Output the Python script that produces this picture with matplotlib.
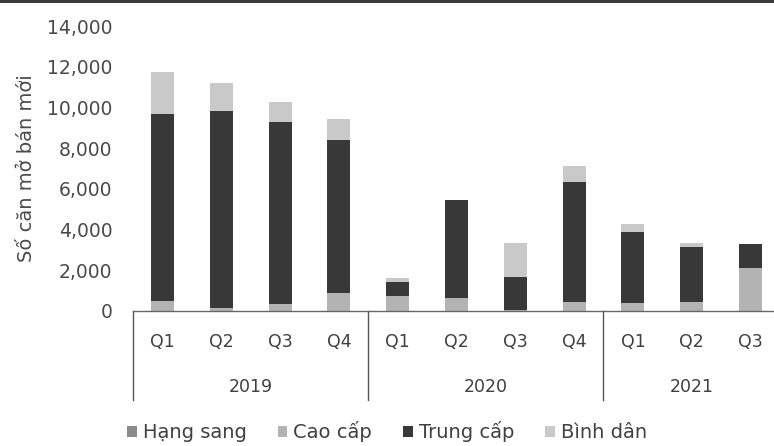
import numpy as np
import matplotlib.pyplot as plt
from matplotlib.patches import Rectangle

plt.rcParams['font.family'] = ['DejaVu Sans']

# So can mo ban moi theo quy, chia theo phan khuc
quarters = ["Q1", "Q2", "Q3", "Q4", "Q1", "Q2", "Q3", "Q4", "Q1", "Q2", "Q3"]
years = ["2019", "2020", "2021"]
year_sizes = [4, 4, 3]

hang_sang = [0, 0, 0, 0, 0, 0, 0, 0, 0, 0, 0]
cao_cap = [500, 150, 340, 870, 750, 620, 50, 460, 380, 460, 2100]
trung_cap = [9200, 9690, 8930, 7530, 660, 4830, 1630, 5890, 3480, 2700, 1190]
binh_dan = [2050, 1370, 1010, 1030, 190, 0, 1670, 780, 410, 160, 0]

series = [("Hạng sang", hang_sang, "#8a8a8a"),
          ("Cao cấp", cao_cap, "#b3b3b3"),
          ("Trung cấp", trung_cap, "#383838"),
          ("Bình dân", binh_dan, "#c9c9c9")]

fig = plt.figure(figsize=(7.74, 4.46), dpi=100)
ax = fig.add_axes([0.172, 0.3027, 0.828, 0.639])

x = np.arange(len(quarters))
bottom = np.zeros(len(quarters))
for name, vals, col in series:
    ax.bar(x, vals, 0.39, bottom=bottom, color=col, label=name)
    bottom += np.array(vals)

ax.set_xlim(-0.5, 10.4)
ax.set_ylim(0, 14000)
ax.set_yticks(range(0, 14001, 2000))
ax.set_yticklabels([f"{v:,}" for v in range(0, 14001, 2000)])
ax.tick_params(axis='y', length=0, pad=15, labelsize=13.5, labelcolor="#4a4a4a")
ax.set_xticks([])
for s in ["top", "right", "left"]:
    ax.spines[s].set_visible(False)
ax.spines["bottom"].set_color("#666666")
ax.spines["bottom"].set_linewidth(1.0)

ax.set_ylabel("Số căn mở bán mới", fontsize=14, color="#4a4a4a", labelpad=8)

# nhan quy va nam duoi truc x
tr = ax.get_xaxis_transform()
for i, q in enumerate(quarters):
    ax.text(i, -0.109, q, transform=tr, ha="center", va="center",
            fontsize=12.5, color="#404040")

start = 0
for yr, n in zip(years, year_sizes):
    ax.plot([start - 0.5, start - 0.5], [0, -0.312], transform=tr,
            color="#555555", lw=1.0, clip_on=False)
    mid = start + (n - 1) / 2
    ax.text(mid, -0.267, yr, transform=tr, ha="center", va="center",
            fontsize=12.5, color="#404040")
    start += n

leg = fig.legend(loc="center", bbox_to_anchor=(0.5, 0.032), ncol=4, frameon=False,
                 fontsize=14, handlelength=0.5, handleheight=0.5, handletextpad=0.3,
                 columnspacing=1.6)
for t in leg.get_texts():
    t.set_color("#404040")

# vien toi o mep tren
fig.add_artist(Rectangle((0, 0.993), 1, 0.007, transform=fig.transFigure,
                         color="#3c3c3c", lw=0))

fig.savefig("out.png", dpi=100)
